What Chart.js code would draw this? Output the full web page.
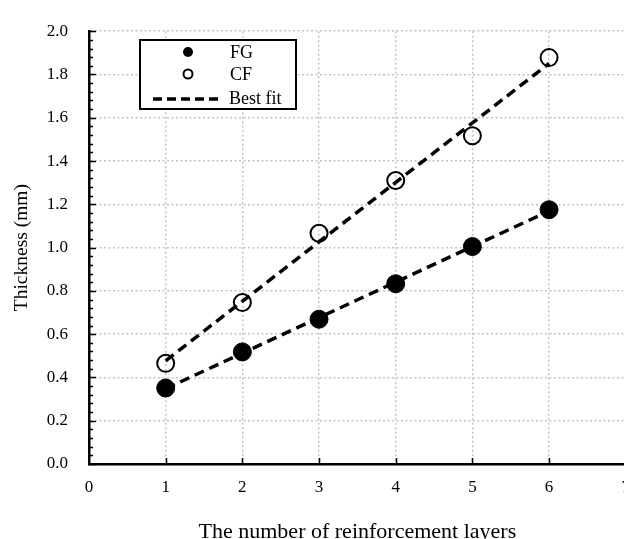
<!DOCTYPE html>
<html>
<head>
<meta charset="utf-8">
<script src="https://cdn.jsdelivr.net/npm/chart.js@4"></script>
<style>
  html, body { margin: 0; padding: 0; background: #fff; overflow: hidden; }
  canvas { display: block; }
</style>
</head>
<body>
<canvas id="chart" width="643" height="548"></canvas>
<script>
// data
const layers = [1, 2, 3, 4, 5, 6];
const fgThickness = [0.351, 0.518, 0.669, 0.833, 1.005, 1.175];
const cfThickness = [0.465, 0.746, 1.066, 1.31, 1.517, 1.878];
const fitLayers = [1, 6];
const fgFit = [0.348, 1.169];
const cfFit = [0.477, 1.851];
const seriesLabels = ["FG", "CF", "Best fit"];
const xTitle = "The number of reinforcement layers";
const yTitle = "Thickness (mm)";

const FONT = "'Liberation Serif', 'Times New Roman', serif";
const toPoints = (xs, ys) => xs.map((x, i) => ({ x: x, y: ys[i] }));

// inward tick marks on both axes
const innerTicks = {
  id: "innerTicks",
  afterDatasetsDraw(chart) {
    const { ctx, scales: { x, y }, chartArea } = chart;
    ctx.save();
    ctx.strokeStyle = "#000";
    ctx.lineWidth = 1.5;
    ctx.beginPath();
    for (let i = 0; i <= 50; i++) {
      const py = Math.round(y.getPixelForValue(i * 0.04)) + 0.5;
      const len = i % 5 === 0 ? 7 : 4;
      ctx.moveTo(chartArea.left, py);
      ctx.lineTo(chartArea.left + len, py);
    }
    for (let v = 1; v <= 7; v++) {
      const px = Math.round(x.getPixelForValue(v)) + 0.5;
      ctx.moveTo(px, chartArea.bottom);
      ctx.lineTo(px, chartArea.bottom - 6);
    }
    ctx.stroke();
    ctx.restore();
  }
};

// boxed legend inside the plot
const boxLegend = {
  id: "boxLegend",
  afterDraw(chart) {
    const { ctx } = chart;
    const bx = 140, by = 40, bw = 156, bh = 69;
    ctx.save();
    ctx.fillStyle = "#fff";
    ctx.fillRect(bx, by, bw, bh);
    ctx.strokeStyle = "#000";
    ctx.lineWidth = 2;
    ctx.strokeRect(bx, by, bw, bh);

    ctx.fillStyle = "#000";
    ctx.beginPath();
    ctx.arc(188, 52, 5, 0, Math.PI * 2);
    ctx.fill();

    ctx.lineWidth = 2;
    ctx.beginPath();
    ctx.arc(188, 74, 4.5, 0, Math.PI * 2);
    ctx.stroke();

    ctx.lineWidth = 3.5;
    ctx.setLineDash([9, 5]);
    ctx.beginPath();
    ctx.moveTo(153, 99);
    ctx.lineTo(221, 99);
    ctx.stroke();
    ctx.setLineDash([]);

    ctx.font = "18px " + FONT;
    ctx.textBaseline = "middle";
    ctx.textAlign = "left";
    ctx.fillText(seriesLabels[0], 230, 53);
    ctx.fillText(seriesLabels[1], 230, 75);
    ctx.fillText(seriesLabels[2], 229, 99);
    ctx.restore();
  }
};

new Chart(document.getElementById("chart"), {
  type: "scatter",
  data: {
    datasets: [
      {
        label: seriesLabels[0],
        data: toPoints(layers, fgThickness),
        pointRadius: 9,
        pointBackgroundColor: "#000",
        pointBorderColor: "#000",
        pointBorderWidth: 1,
        order: 0
      },
      {
        label: seriesLabels[1],
        data: toPoints(layers, cfThickness),
        pointRadius: 8.5,
        pointBackgroundColor: "rgba(0,0,0,0)",
        pointBorderColor: "#000",
        pointBorderWidth: 2,
        order: 1
      },
      {
        label: seriesLabels[2],
        data: toPoints(fitLayers, fgFit),
        showLine: true,
        pointRadius: 0,
        borderColor: "#000",
        borderWidth: 3.5,
        borderDash: [10, 6],
        order: 2
      },
      {
        label: seriesLabels[2],
        data: toPoints(fitLayers, cfFit),
        showLine: true,
        pointRadius: 0,
        borderColor: "#000",
        borderWidth: 3.5,
        borderDash: [10, 6],
        order: 3
      }
    ]
  },
  options: {
    responsive: false,
    animation: false,
    events: [],
    layout: { padding: { left: 0, right: 10, top: 20, bottom: 0 } },
    plugins: {
      legend: { display: false },
      tooltip: { enabled: false }
    },
    scales: {
      x: {
        type: "linear",
        min: 0,
        max: 7,
        afterFit: s => { s.height = 84; },
        ticks: {
          stepSize: 1,
          padding: 13,
          color: "#000",
          font: { family: FONT, size: 17 },
          maxRotation: 0
        },
        grid: {
          color: "#c4c4c4",
          lineWidth: 1.5,
          drawTicks: false
        },
        border: { display: true, color: "#000", width: 2.5, dash: [2, 2.5] },
        title: {
          display: true,
          text: xTitle,
          color: "#000",
          font: { family: FONT, size: 22, lineHeight: 1 },
          padding: { top: 0, bottom: 5 }
        }
      },
      y: {
        type: "linear",
        min: 0,
        max: 2,
        afterFit: s => { s.width = 89; },
        ticks: {
          stepSize: 0.2,
          padding: 21,
          color: "#000",
          font: { family: FONT, size: 17 },
          callback: v => Number(v).toFixed(1)
        },
        grid: {
          color: "#c4c4c4",
          lineWidth: 1.5,
          drawTicks: false
        },
        border: { display: true, color: "#000", width: 2.5, dash: [2, 2.5] },
        title: {
          display: true,
          text: yTitle,
          color: "#000",
          font: { family: FONT, size: 19.5, lineHeight: 1 },
          padding: { top: 12, bottom: 0 }
        }
      }
    }
  },
  plugins: [innerTicks, boxLegend]
});
</script>
</body>
</html>
